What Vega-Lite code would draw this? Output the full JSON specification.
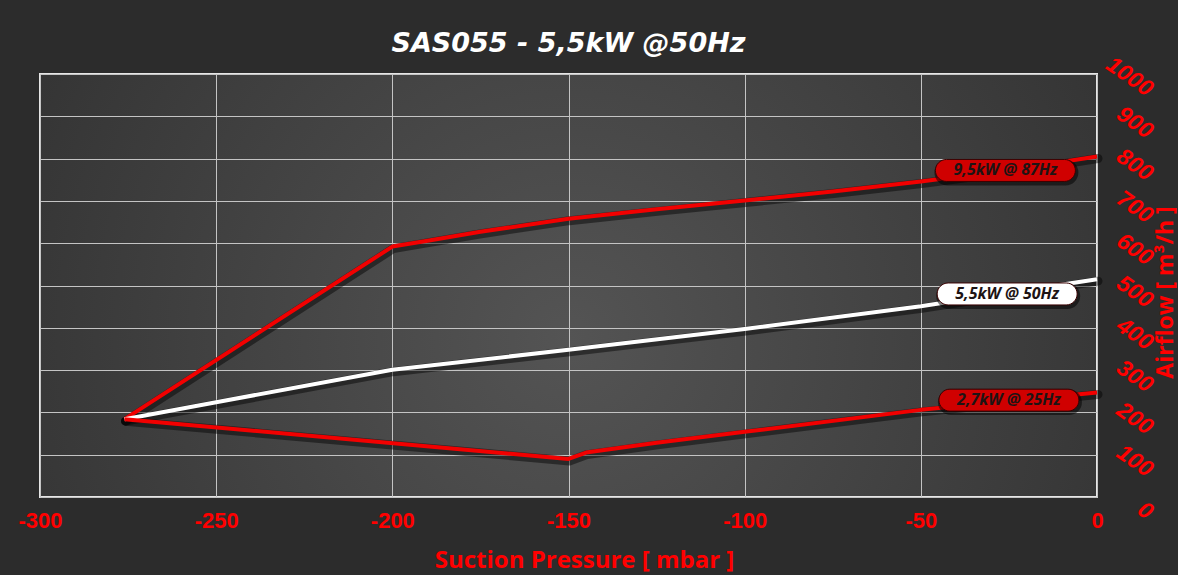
{
  "$schema": "https://vega.github.io/schema/vega-lite/v6.json",
  "width": 1057,
  "height": 423,
  "autosize": "none",
  "padding": {"left": 40, "top": 74, "right": 81, "bottom": 78},
  "background": "#2c2c2c",
  "title": {
    "text": "SAS055 - 5,5kW @50Hz",
    "color": "#ffffff",
    "font": "DejaVu Sans",
    "fontSize": 27,
    "fontWeight": "bold",
    "fontStyle": "italic",
    "anchor": "middle",
    "baseline": "alphabetic",
    "offset": 25,
    "dy": 51
  },
  "config": {
    "view": {
      "stroke": "#e6e6e6",
      "strokeWidth": 2,
      "fill": {
        "gradient": "radial",
        "x1": 0.5, "y1": 0.55, "r1": 0,
        "x2": 0.5, "y2": 0.55, "r2": 0.75,
        "stops": [
          {"offset": 0, "color": "#545454"},
          {"offset": 1, "color": "#2a2a2a"}
        ]
      }
    }
  },
  "datasets": {
    "curves": [
      {"series": "87Hz", "p": -276, "q": 184},
      {"series": "87Hz", "p": -200, "q": 592},
      {"series": "87Hz", "p": -190, "q": 606},
      {"series": "87Hz", "p": -175, "q": 627},
      {"series": "87Hz", "p": -150, "q": 658},
      {"series": "87Hz", "p": -125, "q": 680},
      {"series": "87Hz", "p": -100, "q": 701},
      {"series": "87Hz", "p": -75, "q": 722},
      {"series": "87Hz", "p": -50, "q": 746},
      {"series": "87Hz", "p": -25, "q": 773},
      {"series": "87Hz", "p": 0, "q": 805},
      {"series": "50Hz", "p": -276, "q": 184},
      {"series": "50Hz", "p": -250, "q": 224},
      {"series": "50Hz", "p": -200, "q": 301},
      {"series": "50Hz", "p": -150, "q": 348},
      {"series": "50Hz", "p": -100, "q": 397},
      {"series": "50Hz", "p": -50, "q": 451},
      {"series": "50Hz", "p": 0, "q": 515},
      {"series": "25Hz", "p": -276, "q": 184},
      {"series": "25Hz", "p": -150, "q": 90},
      {"series": "25Hz", "p": -145, "q": 105},
      {"series": "25Hz", "p": -125, "q": 128},
      {"series": "25Hz", "p": -100, "q": 154},
      {"series": "25Hz", "p": -50, "q": 206},
      {"series": "25Hz", "p": 0, "q": 247}
    ],
    "labels": [
      {"series": "87Hz", "label": "9,5kW @ 87Hz", "p": -26, "q": 772},
      {"series": "50Hz", "label": "5,5kW @ 50Hz", "p": -25.5, "q": 480},
      {"series": "25Hz", "label": "2,7kW @ 25Hz", "p": -25, "q": 229}
    ]
  },
  "encoding": {
    "x": {
      "field": "p",
      "type": "quantitative",
      "scale": {"domain": [-300, 0], "nice": false, "zero": false},
      "axis": {
        "orient": "bottom",
        "values": [-300, -250, -200, -150, -100, -50, 0],
        "labelExpr": "replace(format(datum.value, 'd'), '−', '-')",
        "grid": true,
        "gridColor": "#c4c4c4",
        "gridWidth": 1,
        "domain": false,
        "ticks": false,
        "tickSize": 0,
        "labelColor": "#ff0000",
        "labelFont": "Liberation Sans",
        "labelFontSize": 22,
        "labelFontWeight": "bold",
        "labelPadding": 13,
        "labelFlush": false,
        "labelBound": false,
        "labelOverlap": false,
        "title": "Suction Pressure [ mbar ]",
        "titleColor": "#ff0000",
        "titleFont": "Open Sans",
        "titleFontSize": 24,
        "titleFontWeight": "bold",
        "titleX": 544,
        "titleY": 70,
        "titleAlign": "center",
        "titleBaseline": "alphabetic"
      }
    },
    "y": {
      "field": "q",
      "type": "quantitative",
      "scale": {"domain": [0, 1000], "nice": false},
      "axis": {
        "orient": "right",
        "values": [0, 100, 200, 300, 400, 500, 600, 700, 800, 900, 1000],
        "format": "d",
        "grid": true,
        "gridColor": "#c4c4c4",
        "gridWidth": 1,
        "domain": false,
        "ticks": false,
        "tickSize": 0,
        "labelColor": "#ff0000",
        "labelFont": "Liberation Sans",
        "labelFontSize": 23,
        "labelFontWeight": "bold",
        "labelFontStyle": "italic",
        "labelAngle": 35,
        "labelAlign": "right",
        "labelBaseline": "middle",
        "labelPadding": 53,
        "labelOffset": 17,
        "labelBound": false,
        "labelOverlap": false,
        "title": "Airflow [ m³/h ]",
        "titleColor": "#ff0000",
        "titleFont": "Open Sans",
        "titleFontSize": 23,
        "titleFontWeight": "bold",
        "titleAngle": 270,
        "titleX": 68,
        "titleY": 218,
        "titleAlign": "center",
        "titleBaseline": "middle"
      }
    }
  },
  "layer": [
    {
      "data": {"name": "curves"},
      "mark": {"type": "line", "strokeWidth": 9, "color": "#000000", "opacity": 0.45, "strokeJoin": "round", "strokeCap": "round", "yOffset": 2, "xOffset": 1},
      "encoding": {"detail": {"field": "series"}}
    },
    {
      "data": {"name": "curves"},
      "mark": {"type": "line", "strokeWidth": 4, "strokeJoin": "round"},
      "encoding": {
        "color": {
          "field": "series",
          "type": "nominal",
          "scale": {"domain": ["87Hz", "50Hz", "25Hz"], "range": ["#f20000", "#ffffff", "#f20000"]},
          "legend": null
        }
      }
    },
    {
      "data": {"name": "labels"},
      "mark": {
        "type": "point",
        "shape": "M-0.843,-0.157L0.843,-0.157A0.157,0.157,0,0,1,0.843,0.157L-0.843,0.157A0.157,0.157,0,0,1,-0.843,-0.157Z",
        "size": 19600,
        "filled": true,
        "color": "#000000",
        "opacity": 0.5,
        "stroke": "#000000",
        "strokeWidth": 4,
        "yOffset": 2,
        "xOffset": 1
      },
      "encoding": {}
    },
    {
      "data": {"name": "labels"},
      "mark": {
        "type": "point",
        "shape": "M-0.843,-0.157L0.843,-0.157A0.157,0.157,0,0,1,0.843,0.157L-0.843,0.157A0.157,0.157,0,0,1,-0.843,-0.157Z",
        "size": 19600,
        "opacity": 1,
        "stroke": "#3a0000",
        "strokeWidth": 1
      },
      "encoding": {
        "fill": {
          "field": "series",
          "type": "nominal",
          "scale": {"domain": ["87Hz", "50Hz", "25Hz"], "range": ["#d00000", "#ffffff", "#d00000"]},
          "legend": null
        }
      }
    },
    {
      "data": {"name": "labels"},
      "mark": {
        "type": "text",
        "font": "Open Sans",
        "fontSize": 16,
        "fontWeight": "bold",
        "fontStyle": "italic",
        "align": "center",
        "baseline": "middle",
        "color": "#1e1414"
      },
      "encoding": {"text": {"field": "label"}}
    }
  ]
}
